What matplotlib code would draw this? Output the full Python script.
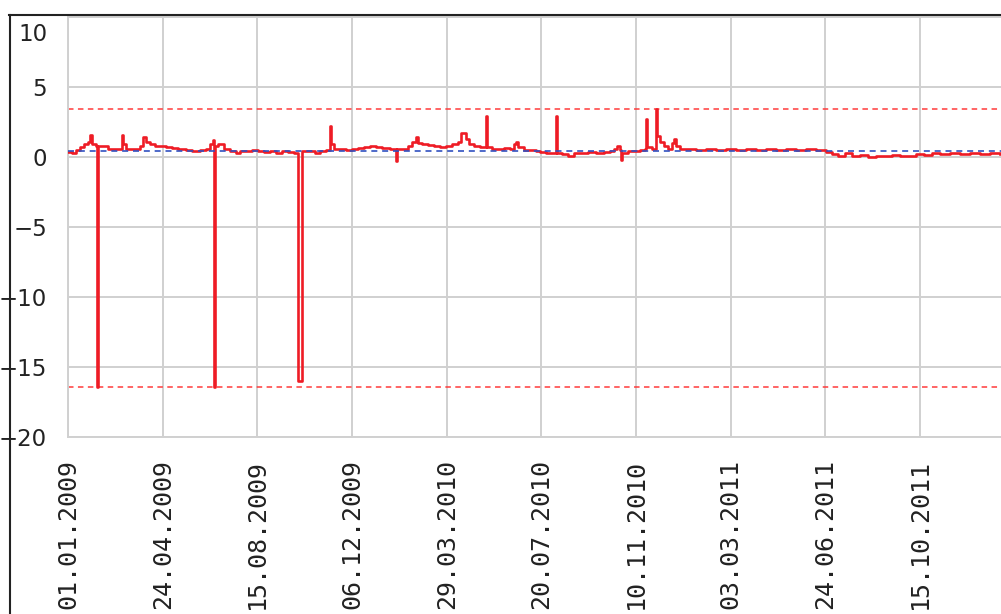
import numpy as np
import matplotlib
matplotlib.use('Agg')
import matplotlib.pyplot as plt
import matplotlib.dates as mdates
from matplotlib.lines import Line2D
from matplotlib.transforms import ScaledTranslation

START = np.datetime64('2009-01-01')

# days since 01.01.2009 -> measured value (red series)
days = [0, 5, 10, 14, 19, 24, 26, 29, 33, 35, 36, 43, 48, 55, 62, 64, 66, 69, 79, 86,
        90, 93, 98, 104, 110, 117, 124, 131, 141, 148, 158, 165, 170, 173, 174, 175, 179,
        186, 193, 201, 205, 212, 220, 227, 234, 241, 248, 255, 263, 270, 275, 279, 286,
        295, 301, 308, 313, 314, 318, 325, 332, 339, 346, 353, 361, 368, 375, 384, 392,
        393, 399, 406, 411, 415, 418, 423, 430, 437, 444, 451, 458, 466, 469, 475, 479,
        485, 492, 499, 500, 506, 513, 520, 528, 532, 535, 537, 544, 551, 559, 563, 571,
        578, 582, 584, 590, 597, 604, 611, 621, 630, 640, 647, 652, 655, 659, 660, 661,
        668, 676, 683, 689, 690, 691, 697, 702, 703, 707, 711, 716, 721, 723, 726, 730,
        740, 750, 762, 774, 785, 797, 809, 821, 833, 845, 857, 869, 881, 893, 905, 912,
        919, 928, 936, 945, 955, 964, 974, 984, 993, 1003, 1012, 1022, 1031, 1041, 1053,
        1065, 1077, 1089, 1101, 1113]
values = [0.35, 0.3, 0.5, 0.7, 0.9, 1.1, 1.6, 0.9, 0.8, -16.4, 0.8, 0.75, 0.6, 0.55, 0.6,
          1.6, 0.9, 0.6, 0.6, 0.8, 1.4, 1.1, 0.9, 0.8, 0.75, 0.7, 0.65, 0.6, 0.5, 0.45, 0.5,
          0.6, 0.9, 1.2, -16.4, 0.8, 0.9, 0.6, 0.45, 0.3, 0.45, 0.4, 0.5, 0.4, 0.35, 0.45,
          0.3, 0.4, 0.35, 0.3, -16.0, 0.4, 0.45, 0.3, 0.45, 0.5, 2.2, 0.9, 0.6, 0.55, 0.5,
          0.6, 0.65, 0.7, 0.75, 0.7, 0.65, 0.6, -0.3, 0.55, 0.6, 0.8, 1.1, 1.4, 1.0, 0.9,
          0.85, 0.75, 0.7, 0.8, 0.9, 1.1, 1.7, 1.3, 0.9, 0.8, 0.7, 2.9, 0.7, 0.6, 0.55,
          0.65, 0.55, 0.9, 1.1, 0.7, 0.5, 0.5, 0.45, 0.35, 0.25, 0.3, 2.9, 0.3, 0.2, 0.1,
          0.25, 0.3, 0.35, 0.3, 0.35, 0.4, 0.6, 0.8, 0.5, -0.2, 0.3, 0.4, 0.4, 0.5, 0.6,
          2.7, 0.7, 0.6, 3.4, 1.5, 1.1, 0.8, 0.6, 1.0, 1.3, 0.8, 0.6, 0.55, 0.5, 0.55, 0.5,
          0.55, 0.5, 0.6, 0.5, 0.55, 0.5, 0.6, 0.5, 0.55, 0.5, 0.35, 0.2, 0.1, 0.25, 0.05,
          0.15, 0.0, 0.1, 0.05, 0.15, 0.05, 0.1, 0.2, 0.15, 0.25, 0.2, 0.25, 0.2, 0.25, 0.2,
          0.25, 0.2]

mean_level = 0.42
upper_limit = 3.45
lower_limit = -16.4

tick_dates = ['2009-01-01', '2009-04-24', '2009-08-15', '2009-12-06', '2010-03-29',
              '2010-07-20', '2010-11-10', '2011-03-03', '2011-06-24', '2011-10-15']
y_ticks = [-20, -15, -10, -5, 0, 5, 10]

dates = START + np.array(days, dtype='timedelta64[D]')

W, H = 1001, 614
fig = plt.figure(figsize=(W / 100, H / 100), dpi=100)
ax = fig.add_axes([68 / W, (H - 437) / H, (W - 68) / W, (437 - 15) / H])

ax.plot(dates, values, color='#ee1c25', lw=1.9, drawstyle='steps-post', zorder=3)
ax.axhline(upper_limit, color='#ff3a3a', lw=1.1, dashes=(3.6, 2.9), zorder=2)
ax.axhline(lower_limit, color='#ff3a3a', lw=1.1, dashes=(3.6, 2.9), zorder=2)
ax.axhline(mean_level, color='#3050c0', lw=1.2, dashes=(3.6, 2.9), zorder=4)

x0 = mdates.date2num(START)
ax.set_xlim(x0, x0 + 1113.7)
ax.set_ylim(-20, 10.14)

ax.set_xticks([mdates.date2num(np.datetime64(d)) for d in tick_dates])
ax.xaxis.set_major_formatter(mdates.DateFormatter('%d.%m.%Y'))
ax.set_yticks(y_ticks)
ax.grid(True, color='#d0d0d0', lw=1.4, zorder=0)
ax.tick_params(axis='both', length=0, colors='#222222')
ax.tick_params(axis='y', pad=15, labelsize=16.5)
ax.tick_params(axis='x', pad=16, labelsize=18, labelrotation=90)
for lab in ax.get_xticklabels():
    lab.set_family('DejaVu Sans Mono')

# top label sits inside the frame
top_lab = ax.yaxis.get_major_ticks()[-1].label1
top_lab.set_transform(top_lab.get_transform() + ScaledTranslation(0, -0.15, fig.dpi_scale_trans))

for side in ['top', 'right']:
    ax.spines[side].set_visible(False)
for side in ['left', 'bottom']:
    ax.spines[side].set_color('#d0d0d0')
    ax.spines[side].set_linewidth(1.4)

# outer black frame
fig.add_artist(Line2D([9.5 / W, 9.5 / W], [0, (H - 15) / H], color='#222222', lw=1.5,
                      transform=fig.transFigure))
fig.add_artist(Line2D([9 / W, 1], [(H - 15) / H, (H - 15) / H], color='#222222', lw=1.5,
                      transform=fig.transFigure))

fig.savefig('out.png', dpi=100)
